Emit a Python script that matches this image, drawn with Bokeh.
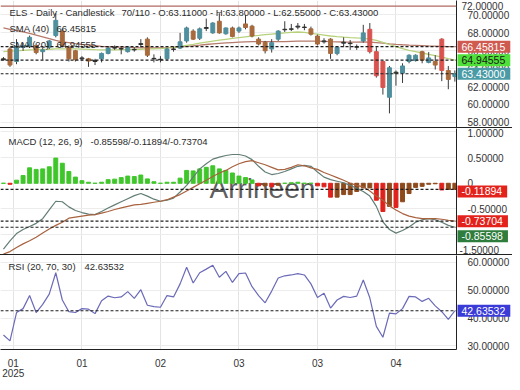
from bokeh.plotting import figure
from bokeh.layouts import column
from bokeh.core.properties import value
from bokeh.models import Range1d, FixedTicker, PrintfTickFormatter, Span, Label, ColumnDataSource
from bokeh.embed import file_html
from bokeh.resources import INLINE

# ---------------- data ----------------
opens = [65.1, 66.2, 64.8, 66.4, 66.5, 66.6, 65.9, 66.4, 67.7, 68.2,
         66.4, 66.0, 65.1, 65.1, 64.9, 65.1, 65.7, 66.35, 66.2, 65.9,
         66.15, 66.7, 67.3, 65.15, 65.05, 65.1, 66.2, 66.3, 67.1, 68.2,
         67.4, 68.5, 68.0, 69.3, 67.9, 68.55, 68.2, 69.0, 68.75, 67.3,
         66.95, 66.2, 67.3, 68.35, 68.4, 68.65, 68.65, 68.45, 67.65, 67.0,
         67.3, 65.7, 66.85, 66.85, 66.45, 67.1, 68.4, 65.9, 64.8, 60.8,
         63.6, 63.5, 64.8, 64.9, 65.9, 64.7, 64.8, 67.3, 63.8, 63.11]
highs = [65.3, 66.4, 67.3, 66.9, 67.7, 66.8, 66.3, 67.2, 70.2, 68.5,
         66.6, 66.1, 65.4, 65.2, 65.1, 65.8, 66.5, 66.6, 66.4, 66.5,
         66.4, 67.3, 67.5, 65.6, 65.4, 66.3, 66.5, 68.0, 68.7, 68.4,
         68.6, 69.6, 69.2, 70.2, 68.6, 68.7, 68.7, 70.0, 68.9, 67.5,
         67.1, 67.3, 68.3, 69.3, 69.0, 69.1, 69.0, 68.7, 67.8, 67.4,
         67.4, 66.5, 67.5, 67.2, 66.7, 68.9, 69.1, 66.4, 64.9, 64.3,
         63.8, 64.6, 65.6, 65.6, 66.0, 65.85, 65.5, 67.4, 64.3, 63.80]
lows = [64.9, 64.2, 64.5, 66.0, 66.3, 65.6, 65.0, 66.2, 67.5, 66.4,
        64.8, 64.8, 64.9, 64.2, 64.4, 64.7, 65.6, 66.1, 65.6, 65.8,
        65.9, 66.4, 65.3, 64.7, 64.7, 64.9, 65.9, 66.2, 66.9, 67.2,
        67.2, 68.2, 67.9, 67.9, 67.8, 67.5, 68.0, 68.4, 67.5, 66.6,
        65.7, 65.8, 67.1, 68.1, 68.2, 68.4, 68.3, 67.7, 66.6, 66.8,
        65.1, 65.5, 66.4, 66.1, 66.1, 66.9, 65.7, 63.0, 61.1, 59.0,
        62.1, 62.4, 64.6, 64.8, 64.6, 64.6, 63.9, 62.6, 61.7, 62.55]
closes = [65.0, 64.4, 66.5, 66.6, 67.5, 65.8, 66.1, 67.1, 69.4, 66.6,
          65.1, 65.0, 65.2, 64.85, 64.8, 65.7, 66.3, 66.3, 66.25, 66.4,
          66.1, 66.8, 65.5, 65.1, 65.0, 66.2, 66.15, 67.0, 68.55, 67.3,
          68.45, 68.6, 69.1, 68.0, 68.55, 67.6, 68.55, 68.6, 67.65, 66.75,
          66.0, 66.9, 68.2, 68.4, 68.45, 68.75, 68.6, 67.85, 66.75, 67.1,
          65.7, 66.4, 66.95, 66.8, 66.4, 68.0, 65.9, 63.2, 61.9, 64.1,
          63.5, 64.3, 65.5, 65.5, 64.95, 65.2, 64.4, 63.8, 62.8, 63.43]
sma40 = [68.55, 68.4, 68.25, 68.1, 67.95, 67.75, 67.55, 67.35, 67.15, 67.0,
         66.9, 66.8, 66.72, 66.65, 66.58, 66.5, 66.45, 66.42, 66.4, 66.38,
         66.35, 66.33, 66.32, 66.32, 66.33, 66.35, 66.38, 66.42, 66.48, 66.55,
         66.62, 66.7, 66.77, 66.83, 66.88, 66.92, 66.96, 66.99, 67.02, 67.03,
         67.03, 67.02, 67.02, 67.03, 67.05, 67.07, 67.08, 67.08, 67.07, 67.05,
         67.02, 67.0, 66.98, 66.97, 66.97, 66.98, 66.97, 66.92, 66.85, 66.78,
         66.72, 66.67, 66.63, 66.6, 66.57, 66.54, 66.52, 66.5, 66.47, 66.45815]
sma20 = [65.9, 65.95, 66.0, 66.05, 66.1, 66.12, 66.15, 66.17, 66.2, 66.22,
         66.22, 66.2, 66.18, 66.15, 66.12, 66.1, 66.1, 66.1, 66.12, 66.13,
         66.15, 66.17, 66.2, 66.22, 66.25, 66.3, 66.38, 66.48, 66.6, 66.72,
         66.85, 66.97, 67.08, 67.18, 67.28, 67.38, 67.47, 67.56, 67.65, 67.72,
         67.8, 67.87, 67.93, 68.0, 68.05, 68.1, 68.05, 67.95, 67.85, 67.75,
         67.65, 67.58, 67.52, 67.47, 67.43, 67.4, 67.3, 67.15, 66.95, 66.7,
         66.45, 66.25, 66.05, 65.9, 65.75, 65.6, 65.45, 65.3, 65.12, 64.94555]
macd = [-1.28, -1.12, -0.98, -0.90, -0.84, -0.78, -0.69, -0.52, -0.35, -0.36,
        -0.46, -0.53, -0.57, -0.60, -0.61, -0.55, -0.48, -0.42, -0.36, -0.30,
        -0.24, -0.20, -0.25, -0.31, -0.35, -0.33, -0.29, -0.17, -0.04, 0.12,
        0.28, 0.38, 0.47, 0.51, 0.54, 0.56, 0.56, 0.53, 0.46, 0.33,
        0.22, 0.17, 0.19, 0.23, 0.28, 0.33, 0.35, 0.33, 0.22, 0.12,
        0.07, 0.04, 0.01, -0.04, -0.10, -0.16, -0.25, -0.45, -0.75, -0.90,
        -0.97, -0.92, -0.85, -0.76, -0.71, -0.69, -0.71, -0.76, -0.82, -0.85598]
signal = [-1.38, -1.33, -1.25, -1.18, -1.12, -1.05, -0.97, -0.89, -0.82, -0.76,
          -0.68, -0.66, -0.64, -0.62, -0.61, -0.58, -0.55, -0.51, -0.48, -0.45,
          -0.42, -0.41, -0.39, -0.37, -0.35, -0.32, -0.27, -0.22, -0.15, -0.08,
          -0.01, 0.06, 0.13, 0.20, 0.25, 0.32, 0.38, 0.42, 0.44, 0.40,
          0.36, 0.31, 0.26, 0.27, 0.31, 0.36, 0.34, 0.30, 0.27, 0.21,
          0.16, 0.11, 0.06, 0.00, -0.04, -0.07, -0.15, -0.25, -0.33, -0.44,
          -0.52, -0.59, -0.64, -0.67, -0.69, -0.69, -0.69, -0.70, -0.72, -0.73704]
hist = [0.0, -0.02, 0.06, 0.15, 0.30, 0.27, 0.28, 0.32, 0.49, 0.39,
        0.23, 0.12, 0.05, 0.02, 0.0, 0.02, 0.07, 0.08, 0.11, 0.14,
        0.13, 0.16, 0.085, 0.03, 0.0, 0.02, 0.02, 0.10, 0.25, 0.24,
        0.28, 0.31, 0.34, 0.28, 0.25, 0.20, 0.14, 0.11, 0.065, -0.05,
        -0.05, -0.07, -0.04, 0.0, 0.01, 0.02, 0.0, 0.0, -0.05, -0.07,
        -0.27, -0.27, -0.22, -0.22, -0.16, -0.09, -0.09, -0.33, -0.55, -0.45,
        -0.47, -0.36, -0.20, -0.08, -0.06, -0.02, -0.01, -0.13, -0.12, -0.11894]
rsi = [33.9, 31.8, 42.0, 43.4, 48.1, 42.0, 44.9, 48.6, 56.3, 46.5,
       42.3, 42.0, 43.4, 43.2, 41.6, 46.2, 47.9, 47.3, 47.6, 49.5,
       47.1, 50.2, 44.6, 44.1, 43.9, 48.1, 47.6, 52.3, 58.3, 52.6,
       56.3, 57.6, 59.0, 54.7, 56.8, 52.8, 56.0, 56.2, 51.3, 48.1,
       45.5, 49.7, 54.4, 55.2, 55.5, 56.0, 55.5, 52.3, 47.4, 48.9,
       43.6, 46.5, 47.8, 47.4, 47.9, 53.7, 47.3, 37.0, 33.1, 41.8,
       41.5, 43.4, 47.8, 47.6, 46.0, 47.1, 44.4, 42.3, 39.5, 42.63532]
ref_line = 71.0
tick_pos = [1.5, 12, 24, 36, 48, 60]
tick_labels = ["01\n2025", "01", "02", "03", "03", "04"]
price_ticks = [58, 60, 62, 64, 66, 68, 70]
macd_ticks = [1.0, 0.5, 0, -0.5, -1.0]
rsi_ticks = [30, 40, 50, 60]

# ---------------- styling ----------------
FONT = "Liberation Sans"
TXT = "#2b2b2b"
TEAL, RED, BROWN = "#4f8f9e", "#d9534f", "#a86a3c"
n = len(closes)
idx = list(range(n))
xr = Range1d(-0.45, 69.25)
W, RB = 512, 52
PAD = dict(left=4, right=5, top=2, bottom=2)


def base(h, yr, ticks, bottom_axis=False):
    p = figure(width=W, height=h, x_range=xr, y_range=yr, output_backend="svg",
               toolbar_location=None, y_axis_location="right",
               x_axis_location="below" if bottom_axis else None,
               min_border_left=0, min_border_right=RB, min_border_top=0,
               min_border_bottom=22 if bottom_axis else 0)
    p.outline_line_color = None
    p.xgrid.ticker = FixedTicker(ticks=tick_pos)
    p.xgrid.grid_line_color = "#e4e4e4"
    p.yaxis.ticker = FixedTicker(ticks=ticks)
    p.ygrid.ticker = FixedTicker(ticks=ticks)
    p.ygrid.grid_line_color = "#ececec"
    ax = p.yaxis[0]
    ax.formatter = PrintfTickFormatter(format="%.5f")
    ax.axis_line_color = "#222222"
    ax.major_tick_line_color = None
    ax.minor_tick_line_color = None
    ax.major_label_standoff = 5
    ax.major_label_text_font = FONT
    ax.major_label_text_font_size = "10px"
    ax.major_label_text_color = "#333333"
    return p


def legend(p, x, y, text, size="9.5px", color=TXT):
    p.add_layout(Label(x=x, x_units="screen", y=y, text=text, text_font=FONT,
                       text_font_size=size, text_color=color, text_baseline="middle"))


def side_text(p, y, text, dx=5, dy=0, bg=None, fg="#333333", size="10px"):
    # drawn at overlay level so it is not clipped to the frame (sits in the axis area)
    kw = dict(background_fill_color=bg, padding=PAD) if bg else {}
    p.text(x=[xr.end], y=[y], text=[text], x_offset=dx, y_offset=dy,
           text_font=value(FONT), text_font_size=size, text_color=fg,
           text_baseline="middle", text_align="left", level="overlay", **kw)


def dash(p, y):
    p.add_layout(Span(location=y, dimension="width", line_color="#1e1e1e",
                      line_dash="3 2", line_width=1.2))


# ---------------- price panel ----------------
pp = base(127, Range1d(57.42, 71.62), price_ticks)
fills, edges, tops, bots = [], [], [], []
for o, c in zip(opens, closes):
    if c > o:
        col = TEAL
    elif o - c >= 2.0:
        col = RED
    else:
        col = BROWN
    fills.append(col)
    edges.append("#2e2e2e" if abs(o - c) < 0.15 else col)
    tops.append(max(o, c))
    bots.append(min(o, c))
src = ColumnDataSource(dict(x=idx, high=highs, low=lows, top=tops, bottom=bots, fill=fills, edge=edges))
pp.add_layout(Span(location=ref_line, dimension="width", line_color="#b06a62", line_width=1.3))
pp.line(idx, sma40, color="#b57a6c", line_width=1.3)
pp.line(idx, sma20, color="#b8d27c", line_width=1.3)
pp.segment("x", "high", "x", "low", source=src, color="#3a3a3a", line_width=1)
pp.vbar(x="x", width=0.6, top="top", bottom="bottom", fill_color="fill", line_color="edge",
        line_width=1, source=src)
for v in (sma40[-1], sma20[-1], closes[-1]):
    dash(pp, v)
legend(pp, 9, 70.32, "ELS - Daily - Candlestick")
legend(pp, 121, 70.32, "70/110 - O:%.5f - H:%.5f - L:%.5f - C:%.5f"
       % (opens[-1], highs[-1], lows[-1], closes[-1]))
legend(pp, 9, 68.45, "SMA (40)")
legend(pp, 56, 68.45, "%.5f" % sma40[-1])
legend(pp, 9, 66.68, "SMA (20)")
legend(pp, 56, 66.68, "%.5f" % sma20[-1])
side_text(pp, pp.y_range.end, "72.00000", dy=5)
side_text(pp, sma40[-1], "%.5f" % sma40[-1], dx=1, bg="#cf5a50", fg="white", size="10.5px")
side_text(pp, sma20[-1], "%.5f" % sma20[-1], dx=1, bg="#4fe03a", fg="#1a1a1a", size="10.5px")
side_text(pp, closes[-1], "%.5f" % closes[-1], dx=1, bg="#4a9ba6", fg="white", size="10.5px")

# ---------------- MACD panel ----------------
pm = base(127, Range1d(-1.406, 1.066), macd_ticks)
pm.yaxis[0].major_label_overrides = {0: "0"}
pm.styles = {"border-top": "1px solid #222222"}
pm.add_layout(Label(x=209, x_units="screen", y=-0.10, text="Arrineen", text_font=FONT,
                    text_font_size="28px", text_color="#5e5e5e", text_baseline="middle",
                    level="underlay"))
hcols = []
for k, hv in enumerate(hist):
    if hv >= 0:
        hcols.append("#3fc62a")
    elif k > 0 and hv < hist[k - 1]:
        hcols.append("#e0221c")
    else:
        hcols.append("#8e4a1c")
pm.vbar(x=idx, top=hist, bottom=0, width=0.6, color=hcols)
pm.line(idx, macd, color="#627d74", line_width=1.2)
pm.line(idx, signal, color="#a8623e", line_width=1.2)
for v in (hist[-1], signal[-1], macd[-1]):
    dash(pm, v)
legend(pm, 8, 0.82, "MACD (12, 26, 9)")
legend(pm, 90, 0.82, "%.5f/%.5f/%.5f" % (macd[-1], hist[-1], signal[-1]))
side_text(pm, pm.y_range.start, "-1.50000", dx=3, dy=-6)
side_text(pm, hist[-1], "%.5f" % hist[-1], dx=1, dy=2, bg="#e3221c", fg="white", size="10.5px")
side_text(pm, signal[-1], "%.5f" % signal[-1], dx=1, bg="#e3221c", fg="white", size="10.5px")
side_text(pm, macd[-1], "%.5f" % macd[-1], dx=1, dy=9, bg="#2e7d3c", fg="white", size="10.5px")

# ---------------- RSI panel ----------------
pr = base(126, Range1d(28.7, 62.5), rsi_ticks, bottom_axis=True)
pr.styles = {"border-top": "1px solid #222222"}
pr.line(idx, rsi, color="#6a6ab8", line_width=1.2)
dash(pr, rsi[-1])
legend(pr, 8, 58.4, "RSI (20, 70, 30)")
legend(pr, 84, 58.4, "%.5f" % rsi[-1])
side_text(pr, rsi[-1], "%.5f" % rsi[-1], dx=1, bg="#3b3bd8", fg="white", size="10.5px")
xa = pr.xaxis[0]
xa.ticker = FixedTicker(ticks=tick_pos)
xa.major_label_overrides = {k: v for k, v in zip(tick_pos, tick_labels)}
xa.axis_line_color = "#222222"
xa.major_tick_line_color = None
xa.minor_tick_line_color = None
xa.major_label_standoff = 2
xa.major_label_text_font = FONT
xa.major_label_text_font_size = "10px"
xa.major_label_text_color = "#333333"
xa.major_label_text_line_height = 0.95

layout = column(pp, pm, pr, spacing=0)
open("out.html", "w").write(file_html(layout, INLINE))
